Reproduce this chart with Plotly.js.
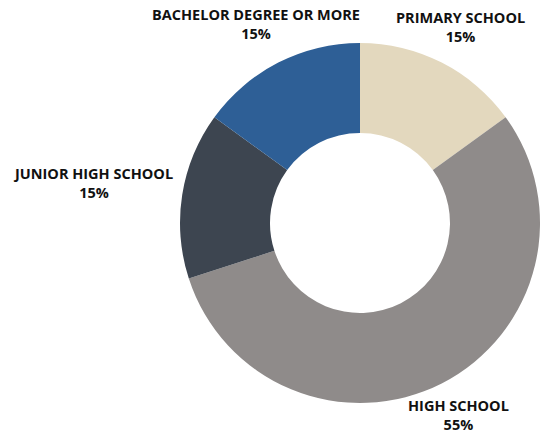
<!DOCTYPE html>
<html>
<head>
<meta charset="utf-8">
<script src="https://cdn.plot.ly/plotly-3.0.1.min.js"></script>
<style>html,body{margin:0;padding:0;background:#fff;}#chart{width:540px;height:434px;}</style>
</head>
<body>
<div id="chart"></div>
<script>
const categories = ["PRIMARY SCHOOL", "HIGH SCHOOL", "JUNIOR HIGH SCHOOL", "BACHELOR DEGREE OR MORE"];
const values = [15, 55, 15, 15];
const colors = ["#E3D8BE", "#8F8B8A", "#3D4550", "#2E5F96"];
// label centres in pixels from top-left
const labelPos = [
  {x: 460, y: 27},
  {x: 458, y: 415},
  {x: 93, y: 183},
  {x: 256, y: 24}
];
const W = 540, H = 434;
const total = values.reduce((a, b) => a + b, 0);
const font = {family: '"Open Sans", sans-serif', size: 14.5, color: '#111111'};

const annotations = categories.map((c, i) => ({
  xref: 'paper', yref: 'paper',
  x: labelPos[i].x / W, y: 1 - labelPos[i].y / H,
  xanchor: 'center', yanchor: 'middle',
  showarrow: false, align: 'center',
  text: '<b>' + c + '<br>' + Math.round(values[i] / total * 100) + '%</b>',
  font: font
}));

const cx = 360, cy = 223, r = 180;
Plotly.newPlot('chart', [{
  type: 'pie',
  labels: categories,
  values: values,
  hole: 0.5,
  sort: false,
  direction: 'clockwise',
  rotation: 0,
  marker: {colors: colors, line: {width: 0}},
  textinfo: 'none',
  hoverinfo: 'label+percent',
  domain: {x: [(cx - r) / W, Math.min(1, (cx + r) / W)], y: [1 - (cy + r) / H, 1 - (cy - r) / H]}
}], {
  width: W, height: H,
  margin: {l: 0, r: 0, t: 0, b: 0},
  showlegend: false,
  paper_bgcolor: '#ffffff',
  annotations: annotations
}, {displayModeBar: false, staticPlot: true});
</script>
</body>
</html>
